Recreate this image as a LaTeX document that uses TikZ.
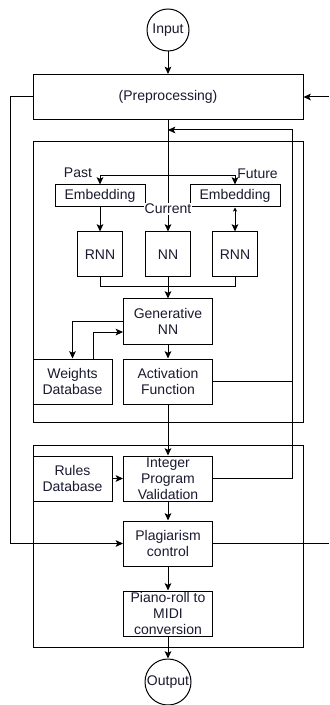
\documentclass[tikz,border=0pt]{standalone}
\usepackage{fontspec}
\setmainfont{Liberation Sans}
\usepackage{xcolor}
\usepackage{tikz}
\usetikzlibrary{arrows.meta,positioning}
\definecolor{flowInk}{RGB}{26,26,48}
\definecolor{flowLine}{RGB}{0,0,0}

\begin{document}
\begin{tikzpicture}[x=0.75pt,y=-0.75pt,
    blk/.style={draw=flowLine, line width=0.75pt, fill=white, text=flowInk, align=center,
        inner sep=0pt, font=\fontsize{10.5}{12}\selectfont},
    term/.style={draw=flowLine, circle, line width=0.75pt, fill=white, text=flowInk,
        inner sep=0pt, font=\fontsize{10.5}{12}\selectfont},
    tag/.style={text=flowInk, inner sep=0.5pt, font=\fontsize{10.5}{12}\selectfont},
    link/.style={draw=flowLine, line width=0.75pt},
    flow/.style={link, -{Stealth[length=5.5pt,width=5pt,inset=1.2pt]}}]
    \useasboundingbox (0,0) rectangle (329,705);

    % containers
    \draw[link] (33,142) rectangle (303,422);
    \draw[link] (33,445) rectangle (303,647);

    % terminals
    \node[term, minimum size=31.5pt] (inp) at (168,30) {Input};
    \node[term, minimum size=34.5pt] (out) at (168,682) {Output};

    % blocks
    \node[blk, minimum width=202.5pt, minimum height=33.75pt] (pre) at (168,97) {(Preprocessing)};
    \node[blk, minimum width=67.5pt, minimum height=16.5pt] (embP) at (100,196) {Embedding};
    \node[blk, minimum width=67.5pt, minimum height=16.5pt] (embF) at (235,196) {Embedding};
    \node[blk, minimum size=33.75pt] (rnnP) at (100,254.5) {RNN};
    \node[blk, minimum size=33.75pt] (nn) at (168,254.5) {NN};
    \node[blk, minimum size=33.75pt] (rnnF) at (235,254.5) {RNN};
    \node[blk, minimum width=66.75pt, minimum height=33.75pt] (gen) at (168,321.5) {Generative\\NN};
    \node[blk, minimum width=59.25pt, minimum height=33.75pt] (wdb) at (72.5,381.5) {Weights\\Database};
    \node[blk, minimum width=66.75pt, minimum height=33.75pt] (act) at (168,381.5) {Activation\\Function};
    \node[blk, minimum width=59.25pt, minimum height=33.75pt] (rdb) at (72.5,478.5) {Rules\\Database};
    \node[blk, minimum width=66.75pt, minimum height=33.75pt] (ipv) at (168,478.5) {Integer\\Program\\Validation};
    \node[blk, minimum width=66.75pt, minimum height=33.75pt] (plag) at (168,543.5) {Plagiarism\\control};
    \node[blk, minimum width=66.75pt, minimum height=33.75pt] (midi) at (168,613.5) {Piano-roll to\\MIDI\\conversion};

    % labels
    \node[tag] (past) at (78,173) {Past};
    \node[tag] (fut) at (257.5,174) {Future};
    \node[tag, fill=white] (cur) at (168,209) {Current};

    % helper points
    \coordinate (split) at (168,176);
    \coordinate (merge) at (168,287);
    \coordinate (fbR) at (292,130);
    \coordinate (lft) at (10,97);
    \coordinate (rin) at (329,97);
    \coordinate (rout) at (329,543.5);

    % connectors
    \draw[flow] (inp) -- (pre);
    \draw[flow] (rin) -- (pre.east);
    \draw[flow] (pre.west) -- (lft) |- (plag.west);
    \draw[link] (plag.east) -- (rout);
    \draw[link] (pre.south) -- (cur.north);
    \draw[flow] (split) -| (embP.north);
    \draw[flow] (split) -| (embF.north);
    \draw[flow] (cur.south) -- (nn.north);
    \draw[flow] (embP) -- (rnnP);
    \draw[link, {Stealth[length=3pt,width=3pt,inset=0.8pt]}-{Stealth[length=5.5pt,width=5pt,inset=1.2pt]}] (embF) -- (rnnF);
    \draw[link] (rnnP.south) |- (merge);
    \draw[link] (rnnF.south) |- (merge);
    \draw[link] (nn.south) -- (merge);
    \draw[flow] (merge) -- (gen.north);
    \draw[flow] (gen.west) -| (wdb.north);
    \draw[flow] ([xshift=15.4pt]wdb.north) |- ([yshift=-7.9pt]gen.west);
    \draw[flow] (gen) -- (act);
    \draw[flow] (act) -- (ipv);
    \draw[link] (act.east) -- (act.east -| fbR);
    \draw[flow] (ipv.east) -| (fbR) -- (fbR -| pre.south);
    \draw[flow] (rdb) -- (ipv);
    \draw[flow] (ipv) -- (plag);
    \draw[flow] (plag) -- (midi);
    \draw[flow] (midi) -- (out);
\end{tikzpicture}
\end{document}
